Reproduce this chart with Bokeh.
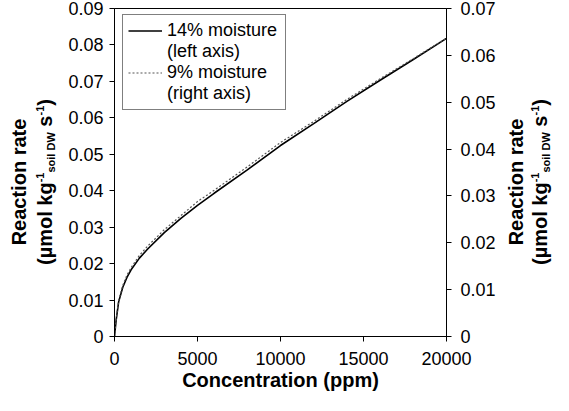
from bokeh.plotting import figure
from bokeh.models import Range1d, LinearAxis, FixedTicker, Legend, LegendItem, Div
from bokeh.layouts import row
from bokeh.embed import file_html
from bokeh.resources import INLINE

# ---- data ----
conc = [0, 100, 250, 500, 750, 1000, 1500, 2000, 3000, 4000, 5000, 6000,
        8000, 10000, 12000, 14000, 16000, 18000, 20000]
rate_14 = [0.0, 0.0045, 0.0095, 0.0135, 0.0162, 0.0183, 0.0215, 0.0240,
           0.0285, 0.0324, 0.0360, 0.0393, 0.0457, 0.0524, 0.0584, 0.0645,
           0.0703, 0.0760, 0.0818]
rate_9 = [0.0, 0.0037, 0.0077, 0.0109, 0.0131, 0.0147, 0.0173, 0.0193,
          0.0228, 0.0258, 0.0288, 0.0312, 0.0362, 0.0414, 0.0459, 0.0506,
          0.0550, 0.0593, 0.0637]
x_ticks = [0, 5000, 10000, 15000, 20000]
left_ticks = [0, 0.01, 0.02, 0.03, 0.04, 0.05, 0.06, 0.07, 0.08, 0.09]
right_ticks = [0, 0.01, 0.02, 0.03, 0.04, 0.05, 0.06, 0.07]
x_title = "Concentration (ppm)"
legend_labels = ["14% moisture", "(left axis)", "9% moisture", "(right axis)"]

FONT = "Liberation Sans"
H = 395

p = figure(width=438, height=H, output_backend="svg", toolbar_location=None,
           x_range=Range1d(0, 20000), y_range=Range1d(0, 0.09),
           min_border_left=54, min_border_right=52, min_border_top=8,
           min_border_bottom=59)
p.extra_y_ranges = {"right": Range1d(0, 0.07)}
p.grid.visible = False
p.outline_line_color = "black"
p.outline_line_width = 1
p.background_fill_color = "white"
p.border_fill_color = "white"

def style_axis(ax, standoff):
    ax.axis_line_color = "black"
    ax.major_tick_line_color = "black"
    ax.major_tick_in = 0
    ax.major_tick_out = 5
    ax.minor_tick_line_color = None
    ax.major_label_text_font = FONT
    ax.major_label_text_font_size = "18px"
    ax.major_label_text_color = "black"
    ax.major_label_standoff = standoff

xa = p.xaxis[0]
xa.ticker = FixedTicker(ticks=x_ticks)
style_axis(xa, 10)
xa.axis_label = x_title
xa.axis_label_text_font = FONT
xa.axis_label_text_font_size = "20px"
xa.axis_label_text_font_style = "bold"
xa.axis_label_text_color = "black"
xa.axis_label_standoff = 1

ya = p.yaxis[0]
ya.ticker = FixedTicker(ticks=left_ticks)
ya.major_label_overrides = {0: "0"}
style_axis(ya, 6)
ya.axis_label = None

ra = LinearAxis(y_range_name="right", ticker=FixedTicker(ticks=right_ticks))
ra.major_label_overrides = {0: "0"}
style_axis(ra, 9)
ra.axis_label = None
p.add_layout(ra, "right")

r1 = p.line(conc, rate_14, line_color="black", line_width=1.6)
r2 = p.line(conc, rate_9, line_color="#555555", line_width=1.2,
            line_dash="2 2", y_range_name="right")

legend = Legend(items=[LegendItem(label=legend_labels[0], renderers=[r1]),
                       LegendItem(label=legend_labels[1], renderers=[]),
                       LegendItem(label=legend_labels[2], renderers=[r2]),
                       LegendItem(label=legend_labels[3], renderers=[])],
                location=(8, 226))
legend.label_text_font = FONT
legend.label_text_font_size = "18px"
legend.label_text_color = "black"
legend.label_height = 21
legend.label_width = 113
legend.glyph_width = 34
legend.glyph_height = 21
legend.label_standoff = 5
legend.padding = 5
legend.spacing = 0
legend.margin = 0
legend.border_line_color = "black"
legend.border_line_width = 1
legend.background_fill_alpha = 1
p.add_layout(legend, "center")

# ---- y-axis titles as rotated HTML text ----
def ytitle_html(cx, cy, lh):
    sup = "<span style='font-size:11px;position:relative;top:-8px'>-1</span>"
    sub = "<span style='font-size:11px;position:relative;top:3px'>soil DW</span>"
    return (
        f"<div style='position:relative;width:100%;height:{H}px;'>"
        f"<div style=\"position:absolute;left:{cx}px;top:{cy}px;"
        "transform:translate(-50%,-50%) rotate(-90deg);white-space:nowrap;"
        f"text-align:center;font-family:'{FONT}';font-weight:bold;font-size:20px;"
        f"line-height:{lh}px;color:black;\">"
        f"Reaction rate<br>(\u00b5mol kg{sup}{sub} s{sup})"
        "</div></div>"
    )

left_div = Div(text=ytitle_html(33, 182, 26), width=60, height=H, margin=0)
right_div = Div(text=ytitle_html(31, 182, 24), width=55, height=H, margin=0)

layout = row(left_div, p, right_div, spacing=0)

open("out.html", "w").write(file_html(layout, INLINE))
